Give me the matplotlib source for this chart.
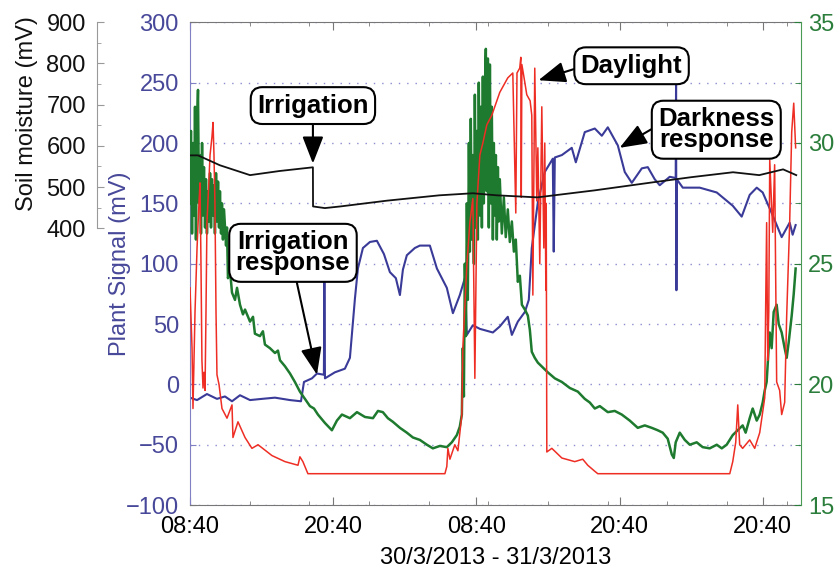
import matplotlib
matplotlib.use("Agg")
import matplotlib.pyplot as plt
from matplotlib.ticker import MultipleLocator, FixedLocator

plt.rcParams['font.family'] = ['Liberation Sans', 'DejaVu Sans']

# time axis in hours after 08:40 on 30/3/2013
tick_hours = [0, 12, 24, 36, 48]
tick_labels = ['08:40', '20:40', '08:40', '20:40', '20:40']
date_label = '30/3/2013 - 31/3/2013'

# soil moisture (black)
soil_t = [0.00, 0.67, 2.50, 5.03, 7.50, 10.30, 10.31, 11.30, 12.60, 16.50, 20.90,
          23.70, 25.70, 29.10, 33.90, 38.90, 42.00, 45.50, 47.70, 49.70, 50.80]
soil_mv = [577, 577, 553, 529, 539, 548, 453, 449, 453, 467, 480,
           485, 480, 475, 492, 512, 524, 536, 529, 543, 529]

# plant signal (blue)
plant_t = [0.00, 0.59, 1.42, 2.26, 2.93, 3.52, 4.19, 5.03, 6.03, 7.12,
           8.38, 9.30, 9.55, 10.22, 10.64, 11.22, 11.26, 11.31, 12.14, 12.98,
           13.40, 13.82, 14.07, 14.49, 15.08, 15.66, 16.25, 16.75, 17.25, 17.59,
           17.84, 18.17, 18.84, 19.26, 20.10, 20.69, 21.52, 22.03, 22.61, 23.03,
           23.20, 23.70, 24.29, 25.38, 25.96, 26.63, 26.97, 27.47, 28.06, 28.39,
           28.64, 29.15, 29.73, 30.40, 30.48, 30.57, 31.16, 31.99, 32.33, 33.08,
           33.92, 34.51, 35.01, 35.85, 36.43, 37.02, 37.86, 38.36, 38.94, 39.36,
           40.20, 40.70, 40.73, 40.76, 40.79, 41.29, 42.71, 44.14, 45.48, 46.23,
           46.90, 47.49, 47.99, 48.83, 49.58, 50.25, 50.50, 50.75]
plant_mv = [-11, -13, -8, -12, -10, -14, -9, -13, -12, -11,
            -13, -14, 2, 5, 9, 8, 85, 5, 10, 13,
            22, 71, 96, 113, 118, 119, 108, 93, 88, 74,
            95, 107, 113, 115, 115, 96, 80, 59, 74, 88,
            41, 49, 46, 43, 48, 56, 41, 52, 60, 70,
            113, 151, 176, 187, 110, 188, 190, 196, 184, 209,
            212, 206, 213, 198, 176, 167, 179, 180, 170, 165,
            172, 171, 250, 78, 170, 163, 163, 159, 148, 139,
            157, 163, 159, 140, 122, 134, 124, 132]

# temperature (green, right axis)
temp_t = [0.00, 0.08, 0.17, 0.25, 0.34, 0.42, 0.50, 0.59, 0.67, 0.75,
          0.84, 0.92, 1.01, 1.09, 1.17, 1.26, 1.34, 1.42, 1.51, 1.59,
          1.68, 1.76, 1.84, 1.93, 2.01, 2.09, 2.18, 2.26, 2.35, 2.43,
          2.51, 2.60, 2.68, 2.76, 2.85, 3.02, 3.10, 3.18, 3.35, 3.52,
          3.77,
          3.94, 4.19, 4.44, 4.61, 5.03, 5.28, 5.44, 5.86, 6.11, 6.28,
          6.70, 7.12, 7.37, 7.54, 7.96, 8.38, 8.79, 9.21, 9.63, 10.05,
          10.39, 10.72, 11.31, 11.89, 12.31, 12.73, 13.40, 13.99, 14.66, 15.33,
          15.75, 16.16, 16.58, 17.00, 17.59, 18.17, 18.68, 19.26, 19.85, 20.35,
          20.94, 21.52, 21.94, 22.36, 22.61, 22.78,
          22.86, 22.95, 23.03, 23.12, 23.20, 23.28, 23.37, 23.45, 23.53, 23.62,
          23.70, 23.79, 23.87, 23.95, 24.04, 24.12, 24.20, 24.29, 24.37, 24.46,
          24.54, 24.62, 24.71, 24.79, 24.87, 24.96, 25.04, 25.13, 25.21, 25.29,
          25.38, 25.46, 25.54, 25.63, 25.71, 25.80, 25.88, 25.96, 26.13, 26.30,
          26.46, 26.63, 26.80, 26.97, 27.14, 27.30,
          27.47, 27.64, 27.81, 28.06, 28.31, 28.48, 28.64, 28.89, 29.15, 29.57,
          29.98, 30.57, 31.16, 31.83, 32.50, 33.08, 33.50, 33.92, 34.34, 35.01,
          35.59, 36.18, 36.85, 37.52, 38.11, 38.69, 39.19, 39.61, 40.03, 40.37,
          40.54, 40.70, 41.04, 41.46, 41.88, 42.46, 42.96, 43.55, 44.14, 44.56,
          44.97, 45.48, 45.90, 46.31, 46.56, 46.90, 47.15, 47.49, 47.74, 47.99,
          48.16, 48.32, 48.49, 48.58, 48.74, 48.91, 49.16, 49.33, 49.58, 49.83,
          50.00, 50.17, 50.42, 50.59, 50.75]
temp_c = [27.5, 30.5, 26.25, 30.0, 27.0, 31.5, 26.0, 30.75, 32.2, 27.5,
          29.5, 26.25, 30.0, 27.0, 29.0, 26.5, 28.5, 26.25, 28.0, 26.75,
          28.75, 26.5, 28.5, 27.0, 28.25, 26.25, 28.75, 26.75, 28.4, 26.5,
          28.0, 26.25, 27.5, 26.0, 27.25, 25.75, 26.5, 24.4, 24.75, 23.8,
          23.5,
          24.0, 23.3, 22.9, 23.1, 22.6, 22.8, 22.1, 22.0, 22.2, 21.65,
          21.5, 21.3, 21.4, 21.0, 20.75, 20.45, 20.1, 19.7, 19.4, 19.1,
          19.0, 18.75, 18.4, 18.1, 18.5, 18.75, 18.6, 18.85, 18.65, 18.6,
          18.9, 18.85, 18.6, 18.45, 18.2, 18.0, 17.8, 17.7, 17.5, 17.35,
          17.45, 17.4, 17.6, 17.9, 18.25, 18.75,
          21.5, 19.5, 25.0, 22.0, 27.5, 23.5, 30.0, 25.5, 31.0, 26.0,
          29.5, 25.0, 32.0, 26.5, 30.5, 26.0, 32.5, 27.0, 31.5, 26.5,
          32.75, 27.5, 32.25, 33.9, 28.0, 33.5, 26.5, 33.25, 27.5, 31.5,
          26.0, 30.0, 27.0, 29.5, 26.0, 29.0, 26.75, 28.5, 26.25, 27.75,
          26.1, 27.25, 25.9, 26.75, 25.5, 26.0,
          24.25, 24.5, 23.3, 23.1, 22.85, 22.25, 21.35, 21.1, 20.9, 20.7,
          20.5, 20.25, 20.1, 19.85, 19.7, 19.4, 19.25, 19.0, 19.1, 18.85,
          18.9, 18.75, 18.5, 18.2, 18.3, 18.2, 18.1, 18.0, 17.75, 17.1,
          16.95, 17.6, 18.0, 17.7, 17.5, 17.6, 17.4, 17.35, 17.5, 17.35,
          17.5, 17.9, 18.1, 18.3, 18.0, 18.6, 19.0, 18.5, 18.75, 19.25,
          19.75, 20.1, 21.5, 22.15, 21.5, 23.0, 23.3, 22.5, 22.15, 21.5,
          21.1, 21.75, 22.85, 23.75, 24.8]

# light trace (red), drawn on the plant signal scale
light_t = [0.00, 0.17, 0.25, 0.42, 0.59, 0.75, 0.84, 0.92, 1.00, 1.09,
           1.17, 1.26, 1.34, 1.42, 1.59, 1.68, 1.84, 1.93, 2.01, 2.09,
           2.18, 2.26, 2.43, 2.68, 3.10, 3.52, 3.60, 4.02, 4.61, 5.19,
           5.70, 6.87, 7.96, 9.05, 9.21, 9.46, 9.88, 21.36, 21.52, 21.61,
           21.78, 22.19, 22.45, 22.78, 22.86, 23.20, 23.45, 23.70, 23.87, 24.04,
           24.29, 24.54, 24.87, 25.29, 25.96, 26.63, 27.05, 27.30, 27.40, 27.63,
           27.72, 27.76, 27.81, 28.06, 28.22, 28.50, 28.64, 28.73, 28.89, 29.06,
           29.15, 29.31, 29.48, 29.65, 29.73, 29.82, 29.85, 29.90, 30.32, 31.16,
           32.24, 32.91, 33.33, 33.92, 34.17, 45.23, 45.48, 45.73, 45.90, 46.06,
           46.31, 46.90, 47.32, 47.74, 48.16, 48.24, 48.32, 48.41, 48.50, 48.58,
           48.83, 48.99, 49.16, 49.41, 49.58, 49.83, 50.00, 50.25, 50.42, 50.59,
           50.75]
light_mv = [80, 30, -20, 60, 113, 150, 167, 100, 20, -3,
            10, -5, 60, 134, 170, 190, 205, 217, 190, 150,
            60, 8, 0, -20, -28, -17, -44, -31, -44, -53,
            -50, -59, -64, -67, -60, -64, -74, -74, -68, -53,
            -62, -50, -55, -25, 30, 99, 134, 154, 5, 150,
            190, 200, 215, 223, 242, 254, 258, 142, 258, 262,
            271, 155, 265, 250, 240, 235, 223, 74, 262, 152,
            196, 100, 230, 113, 200, 78, 150, -56, -53, -61,
            -64, -62, -67, -72, -74, -74, -64, -48, -17, -50,
            -53, -46, -53, -40, -11, 66, 134, 20, 60, 186,
            126, 182, 2, -5, -25, -15, 57, 134, 209, 233,
            196]

BLUE = '#3a3a98'
BLUE_TXT = '#48489a'
BLUE_AX = '#8080c4'
GREEN = '#1e7a2e'
GREEN_TXT = '#2a7d3a'
RED = '#ee2e24'
FS = 17

fig = plt.figure(figsize=(8.37, 5.72), dpi=100)
ax = fig.add_axes([0.227, 0.117, 0.730, 0.844])

# plant signal axis
ax.set_xlim(0, 51.2)
ax.set_ylim(-100, 300)
ax.yaxis.set_major_locator(MultipleLocator(50))
ax.grid(axis='y', linestyle=(0, (1, 5)), color='#8c8cd0', lw=1)
ax.set_xticks(tick_hours, tick_labels)
ax.xaxis.set_minor_locator(MultipleLocator(5))
ax.tick_params(axis='x', which='both', direction='in', top=True, color='#777',
               labelcolor='black', labelsize=FS, pad=8)
ax.tick_params(axis='x', which='major', length=6)
ax.tick_params(axis='x', which='minor', length=3)
ax.tick_params(axis='y', direction='in', color=BLUE_AX, labelcolor=BLUE_TXT,
               labelsize=FS, length=4, pad=8)
ax.set_ylabel('Plant Signal (mV)', color=BLUE_TXT, fontsize=FS)
ax.yaxis.set_label_coords(-0.097, 0.5)
ax.set_xlabel(date_label, fontsize=FS, labelpad=6)
ax.spines['left'].set_color(BLUE_AX)
ax.spines['right'].set_visible(False)
for s in ['top', 'bottom']:
    ax.spines[s].set_color('#777')
ax.plot(plant_t, plant_mv, color=BLUE, lw=1.5)

# temperature axis (right)
ax_t = ax.twinx()
ax_t.set_ylim(15, 35)
ax_t.yaxis.set_major_locator(MultipleLocator(5))
ax_t.yaxis.set_minor_locator(MultipleLocator(2.5))
ax_t.tick_params(axis='y', which='both', direction='in', color=GREEN_TXT,
                 labelcolor=GREEN_TXT, labelsize=FS, pad=5)
ax_t.tick_params(axis='y', which='major', length=5)
ax_t.tick_params(axis='y', which='minor', length=4)
for s in ['left', 'top', 'bottom']:
    ax_t.spines[s].set_visible(False)
ax_t.spines['right'].set_color('#4a9a55')
ax_t.plot(temp_t, temp_c, color=GREEN, lw=1.8)

# light trace
ax_r = ax.twinx()
ax_r.set_ylim(-100, 300)
ax_r.set_axis_off()
ax_r.plot(light_t, light_mv, color=RED, lw=1.1)

# soil moisture axis (offset on the left)
ax_s = ax.twinx()
ax_s.set_ylim(-272, 900)
ax_s.yaxis.tick_left()
ax_s.yaxis.set_label_position('left')
ax_s.spines['left'].set_position(('outward', 67))
ax_s.spines['left'].set_bounds(400, 900)
ax_s.spines['left'].set_color('#999')
for s in ['right', 'top', 'bottom']:
    ax_s.spines[s].set_visible(False)
ax_s.yaxis.set_major_locator(FixedLocator([400, 500, 600, 700, 800, 900]))
ax_s.yaxis.set_minor_locator(FixedLocator([450, 550, 650, 750, 850]))
ax_s.tick_params(axis='y', which='both', direction='in', color='#999',
                 labelcolor='#111', labelsize=FS, pad=8)
ax_s.tick_params(axis='y', which='major', length=5)
ax_s.tick_params(axis='y', which='minor', length=3)
ax_s.set_ylabel('Soil moisture (mV)', fontsize=FS, color='#111')
ax_s.yaxis.set_label_coords(-0.249, 0.81)
ax_s.plot(soil_t, soil_mv, color='#111', lw=1.3)

# callouts
box = dict(boxstyle='round,pad=0.25,rounding_size=0.45', fc='white', ec='black', lw=1.5)
arrow = dict(arrowstyle='-|>,head_length=0.9,head_width=0.35', color='black', lw=1.5,
             shrinkA=0, shrinkB=0)
notes = [
    ('Irrigation', (10.3, 183), (10.3, 231), (0.5, 0)),
    ('Irrigation\nresponse', (10.64, 8), (8.63, 109), (0.52, 0)),
    ('Daylight', (29.2, 252), (37.0, 264), (0, 0.45)),
    ('Darkness\nresponse', (36.0, 196), (44.1, 211), (0, 0.6)),
]
for text, tip, pos, rel in notes:
    ax_s.annotate(text, xy=tip, xycoords=ax.transData, xytext=pos,
                  textcoords=ax.transData, ha='center', va='center',
                  fontsize=18.5, fontweight='bold', linespacing=0.85,
                  bbox=box, arrowprops=dict(arrow, relpos=rel), zorder=10)

fig.savefig('out.png', dpi=100)
